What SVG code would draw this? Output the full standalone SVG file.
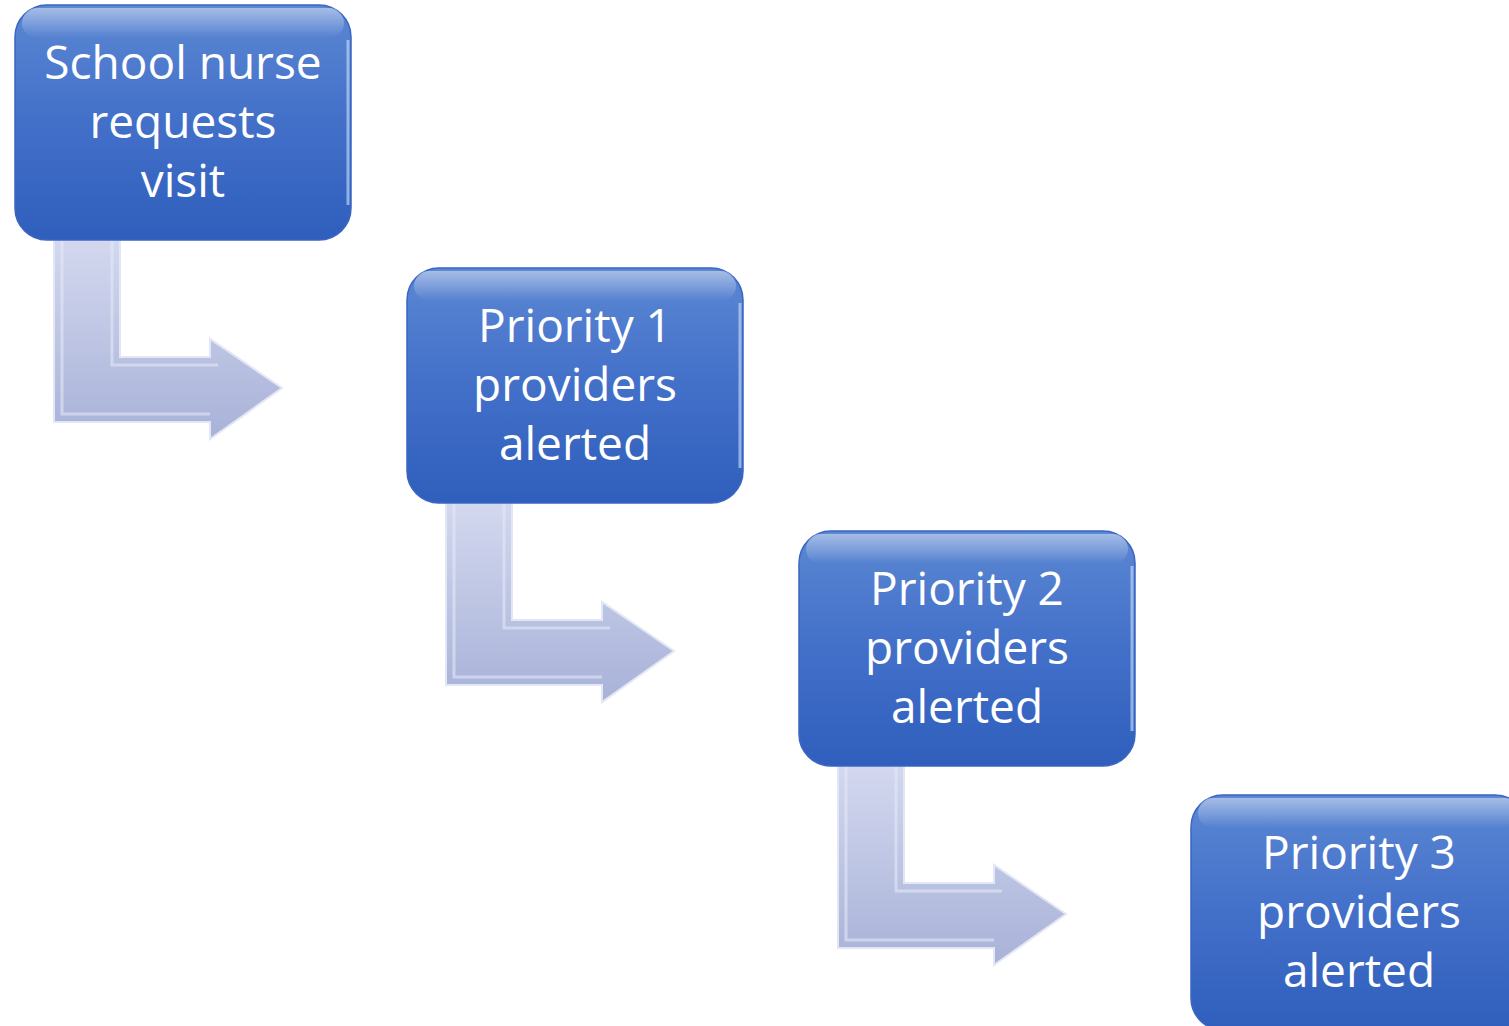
<svg xmlns="http://www.w3.org/2000/svg" width="1509" height="1026" viewBox="0 0 1509 1026">
<defs>
<linearGradient id="boxg" x1="0" y1="0" x2="0" y2="1">
<stop offset="0" stop-color="#5c87d3"/>
<stop offset="0.5" stop-color="#4270c9"/>
<stop offset="1" stop-color="#2f5ebc"/>
</linearGradient>
<linearGradient id="hl" x1="0" y1="0" x2="0" y2="1">
<stop offset="0" stop-color="#ffffff" stop-opacity="0.45"/>
<stop offset="1" stop-color="#ffffff" stop-opacity="0"/>
</linearGradient>
<linearGradient id="arrg" x1="0" y1="0" x2="0" y2="1">
<stop offset="0" stop-color="#d3d8ef"/>
<stop offset="1" stop-color="#a8b2d8"/>
</linearGradient>
<path id="arrow" d="M54,240 H120 V357 H210 V339 L282,388 L210,439 V422 H54 Z"/>
<path id="bevel" d="M62,240 V414 H210 M112,240 V365 H218" fill="none"/>
<g id="box">
<rect x="15" y="5" width="336" height="235" rx="32" ry="32" fill="url(#boxg)" stroke="#3a66c2" stroke-width="1.5"/>
<rect x="22" y="8" width="322" height="30" rx="15" fill="url(#hl)"/>
<path d="M348,40 V205" stroke="#cfe3fa" stroke-width="3" fill="none" opacity="0.6"/>
</g>
</defs>
<style>
.lbl{font-family:"Open Sans","Noto Sans","DejaVu Sans",sans-serif;font-size:46px;fill:#ffffff;text-anchor:middle}
.arr{fill:url(#arrg);stroke:#e3e6f4;stroke-width:2}
.bev{stroke:#e4e8f6;stroke-width:3;opacity:0.6}
</style>
<g id="connectors">
<use href="#arrow" class="arr"/>
<use href="#bevel" class="bev"/>
<g transform="translate(392,263)"><use href="#arrow" class="arr"/><use href="#bevel" class="bev"/></g>
<g transform="translate(784,526)"><use href="#arrow" class="arr"/><use href="#bevel" class="bev"/></g>
</g>
<g id="node1">
<use href="#box"/>
<text class="lbl" x="183" y="79">School nurse</text>
<text class="lbl" x="183" y="138">requests</text>
<text class="lbl" x="183" y="197">visit</text>
</g>
<g id="node2" transform="translate(392,263)">
<use href="#box"/>
<text class="lbl" x="183" y="79">Priority 1</text>
<text class="lbl" x="183" y="138">providers</text>
<text class="lbl" x="183" y="197">alerted</text>
</g>
<g id="node3" transform="translate(784,526)">
<use href="#box"/>
<text class="lbl" x="183" y="79">Priority 2</text>
<text class="lbl" x="183" y="138">providers</text>
<text class="lbl" x="183" y="197">alerted</text>
</g>
<g id="node4" transform="translate(1176,790)">
<use href="#box"/>
<text class="lbl" x="183" y="79">Priority 3</text>
<text class="lbl" x="183" y="138">providers</text>
<text class="lbl" x="183" y="197">alerted</text>
</g>
</svg>
